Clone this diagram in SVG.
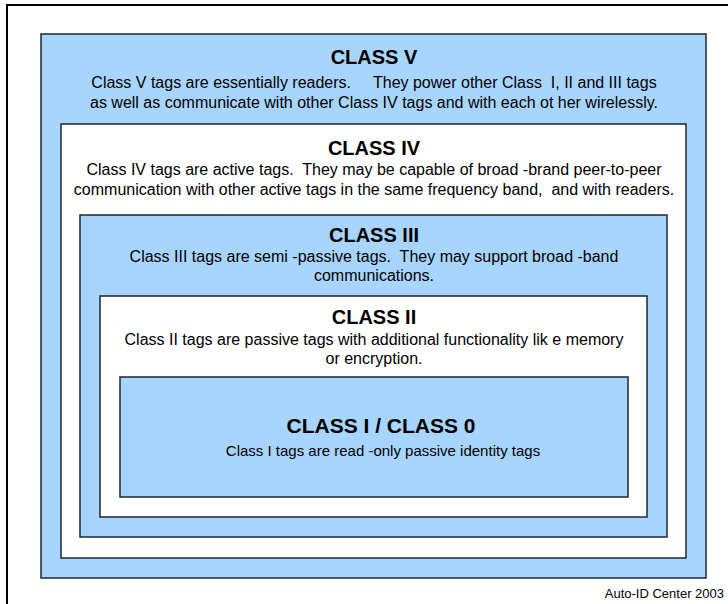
<svg xmlns="http://www.w3.org/2000/svg" width="728" height="604" viewBox="0 0 728 604">
<style>
.box{stroke:#1e2630;stroke-width:1.5}
.blue{fill:#a8d5fd}
.white{fill:#ffffff}
text{font-family:"Liberation Sans",Arial,sans-serif;fill:#000;white-space:pre}
.t{font-size:20px;font-weight:bold;text-anchor:middle}
.d{font-size:16px;text-anchor:middle}
</style>
<rect x="0" y="0" width="728" height="604" fill="#fff"/>
<rect x="7" y="5" width="730" height="610" fill="none" stroke="#000" stroke-width="2"/>
<g id="class5">
<rect class="box blue" x="41" y="34" width="665" height="544"/>
<text class="t" x="374" y="64">CLASS V</text>
<text class="d" x="374" y="88" xml:space="preserve">Class V tags are essentially readers.     They power other Class  I, II and III tags</text>
<text class="d" x="374" y="108" xml:space="preserve">as well as communicate with other Class IV tags and with each ot her wirelessly.</text>
</g>
<g id="class4">
<rect class="box white" x="61" y="124" width="625" height="434"/>
<text class="t" x="374" y="155">CLASS IV</text>
<text class="d" x="374" y="175" xml:space="preserve">Class IV tags are active tags.  They may be capable of broad -brand peer-to-peer</text>
<text class="d" x="374" y="195" xml:space="preserve">communication with other active tags in the same frequency band,  and with readers.</text>
</g>
<g id="class3">
<rect class="box blue" x="80" y="215" width="587" height="322"/>
<text class="t" x="374" y="242">CLASS III</text>
<text class="d" x="374" y="262" xml:space="preserve">Class III tags are semi -passive tags.  They may support broad -band</text>
<text class="d" x="374" y="281">communications.</text>
</g>
<g id="class2">
<rect class="box white" x="100" y="296" width="547" height="221"/>
<text class="t" x="374" y="324">CLASS II</text>
<text class="d" x="374" y="345" xml:space="preserve">Class II tags are passive tags with additional functionality lik e memory</text>
<text class="d" x="374" y="364">or encryption.</text>
</g>
<g id="class1">
<rect class="box blue" x="120" y="377" width="508" height="120"/>
<text class="t" x="381" y="433" style="font-size:21px">CLASS I / CLASS 0</text>
<text class="d" x="383" y="456" style="font-size:15px" xml:space="preserve">Class I tags are read -only passive identity tags</text>
</g>
<text x="724" y="598" style="font-size:13px;text-anchor:end">Auto-ID Center 2003</text>
</svg>
